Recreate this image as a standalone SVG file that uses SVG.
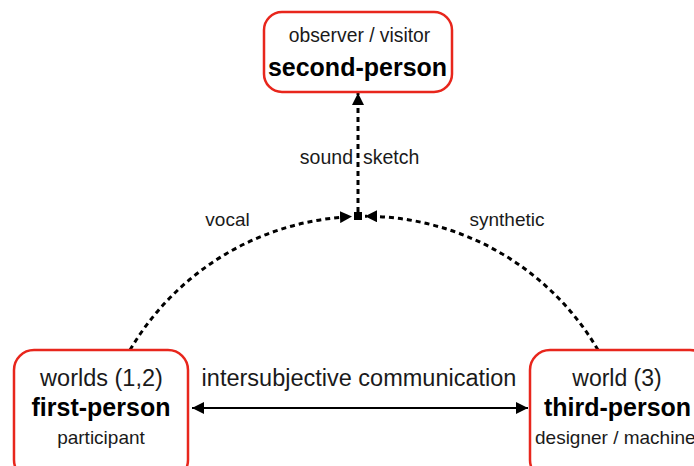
<svg xmlns="http://www.w3.org/2000/svg" width="694" height="466" viewBox="0 0 694 466">
<style>
.box{fill:#fff;stroke:#e8261c;stroke-width:2.5}
.t{font-family:"Liberation Sans",Arial,sans-serif;fill:#1a1a1a;text-anchor:middle}
.b{font-weight:bold;fill:#000}
.dash{fill:none;stroke:#000;stroke-width:3;stroke-dasharray:5 4}
.solid{fill:none;stroke:#000;stroke-width:2}
</style>
<defs>
<marker id="ah" viewBox="0 0 10 10" refX="10" refY="5" markerWidth="4" markerHeight="4" orient="auto-start-reverse" markerUnits="strokeWidth">
<path d="M0,0 L10,5 L0,10 z" fill="#000"/>
</marker>
<marker id="ah2" viewBox="0 0 10 10" refX="10" refY="5" markerWidth="6" markerHeight="6" orient="auto-start-reverse" markerUnits="strokeWidth">
<path d="M0,0 L10,5 L0,10 z" fill="#000"/>
</marker>
</defs>
<g id="connectors">
<path class="dash" d="M130,350 A271,271 0 0 1 352,216.6" marker-end="url(#ah)"/>
<path class="dash" d="M598,350 A271,271 0 0 0 365,216.2" marker-end="url(#ah)"/>
<path class="dash" d="M358,212 L358,93" marker-end="url(#ah)"/>
<rect x="354" y="212" width="8" height="8" fill="#000"/>
<path class="solid" d="M192,408 L528,408" marker-start="url(#ah2)" marker-end="url(#ah2)"/>
<text class="t" x="353" y="164" font-size="19.5" style="text-anchor:end">sound</text>
<text class="t" x="363" y="164" font-size="19.5" style="text-anchor:start">sketch</text>
<text class="t" x="227.5" y="226" font-size="19">vocal</text>
<text class="t" x="507" y="226" font-size="19">synthetic</text>
<text class="t" x="359" y="386" font-size="23.5">intersubjective communication</text>
</g>
<g id="second-person">
<rect class="box" x="264" y="12" width="188" height="80" rx="18"/>
<text class="t" x="359.5" y="42" font-size="19.3">observer / visitor</text>
<text class="t b" x="357.5" y="76" font-size="25">second-person</text>
</g>
<g id="first-person">
<rect class="box" x="14" y="350" width="174" height="130" rx="20"/>
<text class="t" x="101.5" y="386" font-size="23.5">worlds (1,2)</text>
<text class="t b" x="101" y="416" font-size="25">first-person</text>
<text class="t" x="101" y="444" font-size="19">participant</text>
</g>
<g id="third-person">
<rect class="box" x="530" y="350" width="180" height="130" rx="20"/>
<text class="t" x="617" y="386" font-size="23">world (3)</text>
<text class="t b" x="617.5" y="416" font-size="25">third-person</text>
<text class="t" x="535" y="444" font-size="19" style="text-anchor:start">designer / machine</text>
</g>
</svg>
